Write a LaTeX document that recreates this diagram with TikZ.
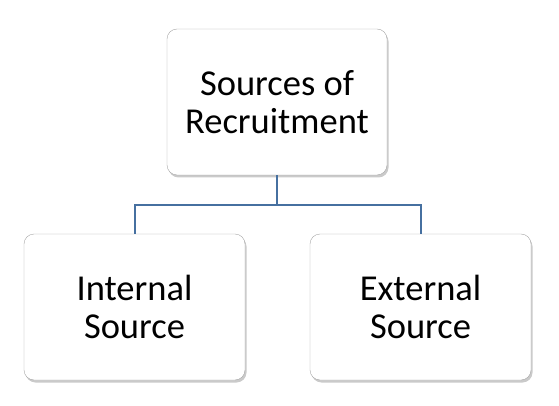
\documentclass[tikz,border=0pt]{standalone}
\usepackage{fontspec}
\setmainfont{Carlito}
\usetikzlibrary{shadows}

\begin{document}
\begin{tikzpicture}[x=1pt,y=1pt,
    box/.style={draw=black!35,fill=white,rounded corners=10pt,minimum width=220pt,minimum height=146pt,
        align=center,font=\fontsize{36.5}{38}\selectfont,
        drop shadow={shadow xshift=1.5pt,shadow yshift=-2.5pt,opacity=0.35,fill=black!60}},
    link/.style={draw={rgb,255:red,70;green,112;blue,160},line width=2pt}]
    \useasboundingbox (0,0) rectangle (559,-406);
    \node[box] (top) at (277,-102) {Sources of\\Recruitment};
    \node[box,minimum width=221pt] (internal) at (134.5,-307) {Internal\\Source};
    \node[box,minimum width=221pt] (external) at (420.5,-307) {External\\Source};
    \coordinate (split) at (277,-205);
    \draw[link] (top) -- (split);
    \draw[link] (split) -| (internal);
    \draw[link] (split) -| (external);
\end{tikzpicture}
\end{document}
